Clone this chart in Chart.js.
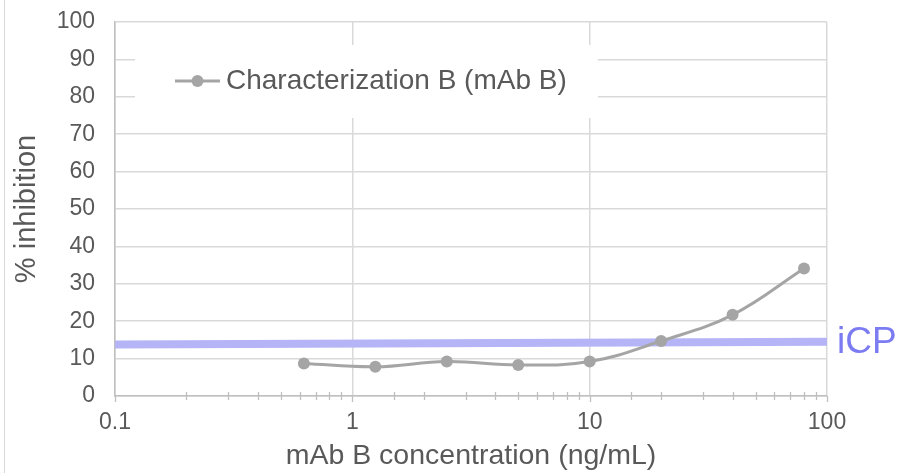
<!DOCTYPE html>
<html>
<head>
<meta charset="utf-8">
<script src="https://cdn.jsdelivr.net/npm/chart.js@4/dist/chart.umd.min.js"></script>
<style>
  html, body { margin: 0; padding: 0; background: #fff; }
  #wrap { width: 899px; height: 473px; position: relative; }
</style>
</head>
<body>
<div id="wrap"><canvas id="chart" width="899" height="473"></canvas></div>
<script>
// data
var concentrations = [0.625, 1.25, 2.5, 5, 10, 20, 40, 80];
var inhibition = [8.7, 7.8, 9.2, 8.3, 9.2, 14.7, 21.7, 34.1];
var icpX = [0.1, 100];
var icpY = [13.8, 14.5];
var seriesName = 'Characterization B (mAb B)';
var xTitle = 'mAb B concentration (ng/mL)';
var yTitle = '% inhibition';
var icpLabel = 'iCP';

var textColor = '#595959';
var gridColor = '#d9d9d9';
var axisColor = '#bfbfbf';
var seriesColor = '#a5a5a5';
var icpColor = '#b4b4f6';
var icpTextColor = '#7c7cf2';
var fontFamily = '"Liberation Sans", Arial, sans-serif';

function isMajor(v){
	var l = Math.log10(v);
	return Math.abs(l - Math.round(l)) < 1e-6;
}

// excel style ticks crossing the x axis, plus the left border, legend box and iCP label
var extras = {
	id: 'extras',
	beforeDraw(chart){
		var ctx = chart.ctx;
		ctx.save();
		ctx.strokeStyle = gridColor;
		ctx.lineWidth = 1;
		ctx.beginPath();
		ctx.moveTo(4.5, 0);
		ctx.lineTo(4.5, chart.height);
		ctx.stroke();
		ctx.restore();
	},
	afterDatasetsDraw(chart){
		var ctx = chart.ctx;
		var area = chart.chartArea;
		var xs = chart.scales.x;
		ctx.save();
		// tick marks
		ctx.strokeStyle = axisColor;
		ctx.lineWidth = 1.3;
		xs.ticks.forEach(function(t, i){
			var px = Math.round(xs.getPixelForTick(i)) + 0.5;
			ctx.beginPath();
			if(isMajor(t.value)){
				ctx.moveTo(px, area.bottom);
				ctx.lineTo(px, area.bottom + 6);
			}else{
				ctx.moveTo(px, area.bottom - 4);
				ctx.lineTo(px, area.bottom + 4);
			}
			ctx.stroke();
		});

		// legend box
		ctx.fillStyle = '#fff';
		ctx.fillRect(135, 45, 463, 73);
		var ly = 81;
		ctx.strokeStyle = seriesColor;
		ctx.lineWidth = 3;
		ctx.beginPath();
		ctx.moveTo(175, ly);
		ctx.lineTo(220, ly);
		ctx.stroke();
		ctx.fillStyle = seriesColor;
		ctx.beginPath();
		ctx.arc(197.5, ly, 6, 0, Math.PI * 2);
		ctx.fill();
		ctx.fillStyle = textColor;
		ctx.font = '28px ' + fontFamily;
		ctx.textBaseline = 'middle';
		ctx.textAlign = 'left';
		ctx.fillText(seriesName, 226, ly);

		// iCP label
		var ys = chart.scales.y;
		ctx.fillStyle = icpTextColor;
		ctx.font = '37px ' + fontFamily;
		ctx.fillText(icpLabel, area.right + 10, ys.getPixelForValue(icpY[1]) + 1);
		ctx.restore();
	}
};

var ctx = document.getElementById('chart').getContext('2d');
var mychart = new Chart(ctx, {
	type: 'line',
	data: {
		datasets: [{
			label: seriesName,
			data: concentrations.map(function(c, i){ return {x: c, y: inhibition[i]}; }),
			borderColor: seriesColor,
			backgroundColor: seriesColor,
			borderWidth: 3,
			pointRadius: 6,
			pointHoverRadius: 6,
			pointBorderWidth: 0,
			tension: 0.4,
			order: 0
		}, {
			label: icpLabel,
			data: icpX.map(function(c, i){ return {x: c, y: icpY[i]}; }),
			borderColor: icpColor,
			borderWidth: 8,
			pointRadius: 0,
			borderCapStyle: 'butt',
			order: 1
		}]
	},
	options: {
		responsive: false,
		animation: false,
		layout: { padding: { top: 22, right: 72, left: 0, bottom: 0 } },
		plugins: {
			legend: { display: false },
			tooltip: { enabled: false }
		},
		scales: {
			x: {
				type: 'logarithmic',
				min: 0.1,
				max: 100,
				afterFit: function(s){ s.height = 77; s.paddingLeft = 0; s.paddingRight = 0; },
				border: { color: axisColor, width: 1.5 },
				grid: {
					drawTicks: false,
					color: function(c){ return c.tick && isMajor(c.tick.value) ? gridColor : 'rgba(0,0,0,0)'; },
					lineWidth: 1.5
				},
				ticks: {
					autoSkip: false,
					maxRotation: 0,
					padding: 13,
					color: textColor,
					font: { family: fontFamily, size: 23 },
					callback: function(v){ return isMajor(v) ? String(Number(v.toPrecision(3))) : ''; }
				},
				title: {
					display: true,
					text: xTitle,
					color: textColor,
					font: { family: fontFamily, size: 28.5 },
					padding: { top: 0, bottom: 0 }
				}
			},
			y: {
				min: 0,
				max: 100,
				afterFit: function(s){ s.width = 115; s.paddingTop = 0; s.paddingBottom = 0; },
				border: { color: axisColor, width: 1.5 },
				grid: { drawTicks: false, color: gridColor, lineWidth: 1.5 },
				ticks: {
					stepSize: 10,
					padding: 20,
					color: textColor,
					font: { family: fontFamily, size: 23 }
				},
				title: {
					display: true,
					text: yTitle,
					color: textColor,
					font: { family: fontFamily, size: 29 },
					padding: { top: 10, bottom: 0 }
				}
			}
		}
	},
	plugins: [extras]
});
</script>
</body>
</html>
